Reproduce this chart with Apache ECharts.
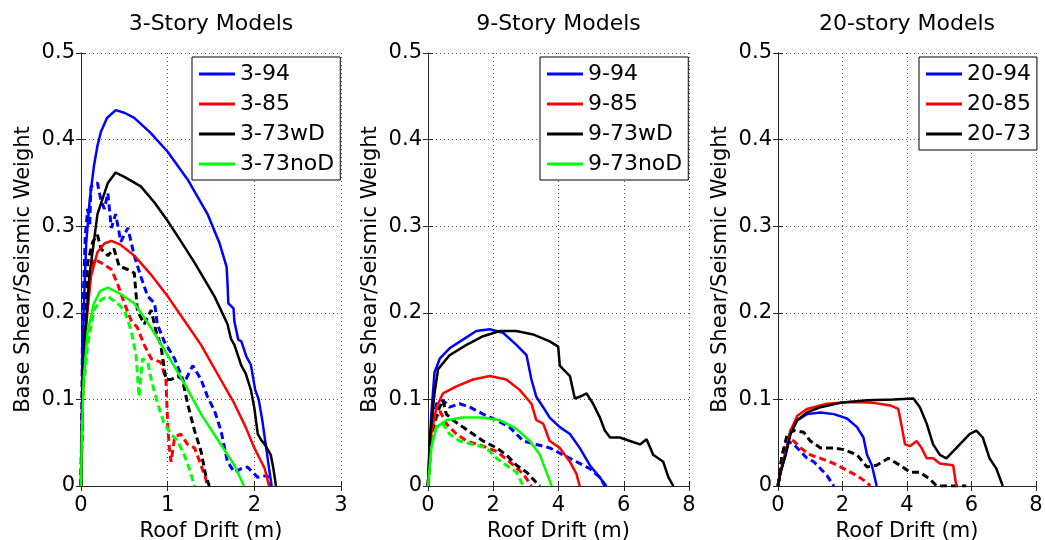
<!DOCTYPE html>
<html><head><meta charset="utf-8">
<script src="https://cdn.jsdelivr.net/npm/echarts/dist/echarts.min.js"></script>
<style>html,body{margin:0;padding:0;background:#fff}#c{width:1045px;height:540px}</style>
</head><body><div id="c"></div><script>
// ---------- Panel titles / legends / ticks ----------
const panelTitles = ['3-Story Models', '9-Story Models', '20-story Models'];
const xMax = [3, 8, 8];
const xStep = [1, 2, 2];
const yMax = 0.5, yStep = 0.1;
const xName = 'Roof Drift (m)';
const yName = 'Base Shear/Seismic Weight';
const legend3 = ['3-94', '3-85', '3-73wD', '3-73noD'];
const legend9 = ['9-94', '9-85', '9-73wD', '9-73noD'];
const legend20 = ['20-94', '20-85', '20-73'];

// ---------- 3-story: solid curves [drift, V/W] ----------
const s3_94 = [[0,0],[0.01,0.08],[0.03,0.2],[0.06,0.28],[0.1,0.33],[0.15,0.37],[0.19,0.393],[0.23,0.409],[0.3,0.425],[0.4,0.434],[0.5,0.431],[0.615,0.425],[0.8,0.408],[1.0,0.386],[1.23,0.354],[1.46,0.314],[1.6,0.28],[1.68,0.253],[1.69,0.235],[1.70,0.211],[1.76,0.205],[1.77,0.19],[1.815,0.169],[1.85,0.167],[1.91,0.149],[1.96,0.14],[2.01,0.111],[2.05,0.1],[2.085,0.08],[2.1,0.07],[2.14,0.042],[2.17,0.02],[2.2,0]];
const s3_85 = [[0,0],[0.02,0.1],[0.058,0.183],[0.115,0.242],[0.19,0.27],[0.27,0.28],[0.35,0.283],[0.45,0.279],[0.615,0.266],[0.8,0.245],[1.0,0.219],[1.2,0.19],[1.385,0.163],[1.6,0.125],[1.77,0.095],[1.9,0.068],[2.0,0.044],[2.07,0.03],[2.12,0.02],[2.17,0]];
const s3_73w = [[0,0],[0.015,0.1],[0.04,0.163],[0.096,0.242],[0.19,0.314],[0.31,0.35],[0.4,0.362],[0.5,0.357],[0.69,0.346],[0.85,0.327],[1.0,0.306],[1.15,0.283],[1.31,0.258],[1.54,0.219],[1.69,0.187],[1.73,0.17],[1.77,0.163],[1.85,0.139],[1.9,0.13],[1.96,0.111],[2.0,0.09],[2.04,0.06],[2.08,0.053],[2.12,0.048],[2.19,0.036],[2.22,0.02],[2.25,0]];
const s3_73n = [[0,0],[0.01,0.06],[0.03,0.123],[0.077,0.179],[0.15,0.211],[0.22,0.225],[0.31,0.229],[0.45,0.222],[0.615,0.211],[0.8,0.184],[1.0,0.151],[1.2,0.117],[1.385,0.083],[1.6,0.05],[1.77,0.024],[1.88,0]];
// ---------- 3-story: dashed curves ----------
const d3_94 = [[0,0],[0.02,0.2],[0.05,0.29],[0.077,0.32],[0.1,0.3],[0.115,0.346],[0.19,0.35],[0.23,0.33],[0.27,0.32],[0.31,0.338],[0.35,0.298],[0.4,0.314],[0.46,0.282],[0.54,0.298],[0.615,0.266],[0.69,0.242],[0.77,0.219],[0.85,0.211],[0.88,0.187],[0.96,0.167],[1.08,0.147],[1.19,0.119],[1.29,0.139],[1.385,0.123],[1.46,0.103],[1.54,0.087],[1.615,0.064],[1.69,0.028],[1.77,0.016],[1.85,0.02],[1.92,0.022],[2.04,0.01],[2.15,0.012],[2.19,0]];
const d3_85 = [[0,0],[0.02,0.143],[0.077,0.234],[0.15,0.262],[0.23,0.258],[0.35,0.25],[0.42,0.234],[0.5,0.211],[0.58,0.191],[0.65,0.183],[0.73,0.163],[0.81,0.147],[0.92,0.143],[0.98,0.123],[1.0,0.07],[1.02,0.044],[1.04,0.028],[1.08,0.056],[1.15,0.06],[1.23,0.048],[1.31,0.044],[1.385,0.024],[1.44,0.008],[1.46,0]];
const d3_73w = [[0,0],[0.03,0.163],[0.077,0.258],[0.135,0.282],[0.19,0.29],[0.23,0.274],[0.31,0.266],[0.38,0.274],[0.44,0.254],[0.54,0.25],[0.615,0.246],[0.65,0.203],[0.73,0.187],[0.81,0.203],[0.865,0.179],[0.92,0.163],[0.98,0.123],[1.04,0.123],[1.115,0.127],[1.17,0.123],[1.23,0.095],[1.31,0.064],[1.385,0.04],[1.44,0.012],[1.48,0]];
const d3_73n = [[0,0],[0.02,0.103],[0.077,0.163],[0.15,0.203],[0.23,0.215],[0.31,0.219],[0.42,0.211],[0.5,0.203],[0.58,0.179],[0.635,0.151],[0.67,0.103],[0.71,0.147],[0.77,0.143],[0.81,0.123],[0.885,0.095],[0.96,0.072],[1.04,0.06],[1.115,0.052],[1.19,0.036],[1.25,0.02],[1.31,0]];

// ---------- 9-story: solid ----------
const s9_94 = [[0,0],[0.1,0.083],[0.2,0.131],[0.36,0.147],[0.66,0.159],[1.07,0.169],[1.48,0.179],[1.89,0.181],[2.3,0.177],[2.71,0.163],[3.02,0.151],[3.17,0.123],[3.32,0.103],[3.53,0.091],[3.73,0.079],[4.04,0.068],[4.35,0.06],[4.65,0.044],[4.96,0.024],[5.22,0.012],[5.47,0]];
const s9_85 = [[0,0],[0.1,0.06],[0.26,0.091],[0.46,0.107],[0.87,0.115],[1.38,0.123],[1.89,0.127],[2.4,0.123],[2.81,0.111],[3.17,0.095],[3.32,0.076],[3.53,0.072],[3.73,0.052],[4.04,0.044],[4.35,0.028],[4.55,0.014],[4.65,0]];
const s9_73w = [[0,0],[0.05,0.052],[0.2,0.107],[0.31,0.135],[0.66,0.151],[1.18,0.163],[1.69,0.173],[2.2,0.179],[2.71,0.179],[3.22,0.175],[3.73,0.167],[3.99,0.161],[4.04,0.139],[4.14,0.135],[4.35,0.127],[4.5,0.101],[4.65,0.103],[4.86,0.107],[5.06,0.095],[5.27,0.079],[5.42,0.064],[5.58,0.056],[5.88,0.056],[6.19,0.052],[6.5,0.048],[6.7,0.054],[6.9,0.036],[7.21,0.028],[7.37,0.01],[7.52,0]];
const s9_73n = [[0,0],[0.1,0.044],[0.26,0.068],[0.56,0.076],[1.07,0.079],[1.69,0.079],[2.2,0.076],[2.71,0.066],[3.12,0.052],[3.43,0.036],[3.63,0.016],[3.79,0]];
// ---------- 9-story: dashed ----------
const d9_94 = [[0,0],[0.1,0.064],[0.26,0.095],[0.46,0.099],[0.66,0.091],[0.97,0.095],[1.28,0.091],[1.69,0.083],[2.1,0.076],[2.5,0.068],[2.92,0.052],[3.32,0.048],[3.73,0.044],[4.14,0.036],[4.55,0.028],[4.96,0.02],[5.27,0.01],[5.42,0]];
const d9_85 = [[0,0],[0.1,0.056],[0.26,0.079],[0.36,0.087],[0.56,0.072],[0.87,0.06],[1.18,0.052],[1.69,0.046],[2.1,0.04],[2.5,0.028],[2.92,0.014],[3.17,0]];
const d9_73w = [[0,0],[0.1,0.06],[0.26,0.083],[0.46,0.099],[0.56,0.083],[0.77,0.076],[1.07,0.068],[1.38,0.06],[1.69,0.052],[2.1,0.044],[2.4,0.036],[2.71,0.024],[3.02,0.016],[3.32,0.004],[3.43,0]];
const d9_73n = [[0,0],[0.1,0.048],[0.26,0.068],[0.46,0.072],[0.66,0.06],[0.97,0.052],[1.38,0.048],[1.79,0.044],[2.1,0.032],[2.4,0.024],[2.71,0.016],[2.92,0]];

// ---------- 20-story: solid ----------
const s20_94 = [[0,0],[0.08,0.016],[0.24,0.04],[0.39,0.064],[0.6,0.076],[0.9,0.083],[1.32,0.085],[1.73,0.083],[2.14,0.078],[2.45,0.068],[2.65,0.056],[2.76,0.036],[2.91,0.024],[3.06,0]];
const s20_85 = [[0,0],[0.08,0.016],[0.24,0.038],[0.39,0.064],[0.6,0.081],[0.9,0.089],[1.52,0.095],[2.24,0.097],[2.96,0.096],[3.48,0.093],[3.73,0.089],[3.84,0.068],[3.94,0.048],[4.09,0.046],[4.3,0.052],[4.45,0.044],[4.61,0.032],[4.81,0.032],[5.02,0.026],[5.43,0.024],[5.53,0]];
const s20_73 = [[0,0],[0.08,0.016],[0.24,0.036],[0.39,0.06],[0.6,0.076],[0.9,0.085],[1.32,0.091],[1.93,0.096],[2.76,0.099],[3.58,0.1],[4.2,0.101],[4.4,0.091],[4.61,0.072],[4.81,0.048],[5.02,0.036],[5.22,0.032],[5.43,0.04],[5.74,0.052],[5.94,0.06],[6.15,0.064],[6.35,0.056],[6.56,0.032],[6.77,0.02],[6.97,0]];
// ---------- 20-story: dashed ----------
const d20_94 = [[0,0],[0.13,0.036],[0.29,0.052],[0.49,0.048],[0.7,0.04],[0.9,0.032],[1.11,0.028],[1.32,0.02],[1.52,0.012],[1.73,0]];
const d20_85 = [[0,0],[0.13,0.036],[0.29,0.056],[0.49,0.052],[0.7,0.044],[1.0,0.036],[1.32,0.032],[1.73,0.026],[2.04,0.02],[2.45,0.012],[2.76,0.004],[2.86,0]];
const d20_73 = [[0,0],[0.13,0.036],[0.29,0.06],[0.49,0.064],[0.8,0.062],[1.0,0.052],[1.32,0.044],[1.73,0.044],[2.04,0.042],[2.45,0.036],[2.76,0.022],[3.06,0.024],[3.42,0.032],[3.78,0.024],[4.09,0.016],[4.4,0.016],[4.71,0.008],[4.92,0],[5.84,0]];

const BLUE = '#0000ff', RED = '#ff0000', BLACK = '#000000', GREEN = '#00ff00';
const FONT = 'DejaVu Sans';
const grids = [
  {left: 81, top: 53, width: 260, height: 433, outerBoundsMode: 'none', containLabel: false},
  {left: 428, top: 53, width: 261, height: 433, outerBoundsMode: 'none', containLabel: false},
  {left: 778, top: 53, width: 258, height: 433, outerBoundsMode: 'none', containLabel: false}
];
const axisColor = '#262626';
const gridLine = {show: true, lineStyle: {color: '#555', type: [1, 3], width: 1}};

const xAxes = [], yAxes = [];
for (let i = 0; i < 3; i++) {
  xAxes.push({type: 'value', gridIndex: i, min: 0, max: xMax[i], interval: xStep[i],
    name: xName, nameLocation: 'middle', nameGap: 30,
    nameTextStyle: {fontSize: 21, color: '#000', fontFamily: FONT},
    axisLine: {lineStyle: {color: axisColor}},
    axisTick: {inside: true, length: 5, lineStyle: {color: axisColor}},
    axisLabel: {fontSize: 21, color: '#000', margin: 9, fontFamily: FONT},
    splitLine: gridLine});
  yAxes.push({type: 'value', gridIndex: i, min: 0, max: yMax, interval: yStep,
    name: yName, nameLocation: 'middle', nameGap: 47,
    nameTextStyle: {fontSize: 21, color: '#000', fontFamily: FONT},
    axisLine: {show: true, lineStyle: {color: axisColor}},
    axisTick: {show: true, inside: true, length: 5, lineStyle: {color: axisColor}},
    axisLabel: {fontSize: 21, color: '#000', margin: 6, fontFamily: FONT},
    splitLine: gridLine});
}
for (let i = 0; i < 3; i++) {
  xAxes.push({type: 'value', gridIndex: i, position: 'top', min: 0, max: xMax[i], interval: xStep[i],
    axisLine: {lineStyle: {color: axisColor}}, axisTick: {inside: true, length: 5, lineStyle: {color: axisColor}},
    axisLabel: {show: false}, splitLine: {show: false}});
  yAxes.push({type: 'value', gridIndex: i, position: 'right', min: 0, max: yMax, interval: yStep,
    axisLine: {show: true, lineStyle: {color: axisColor}}, axisTick: {show: true, inside: true, length: 5, lineStyle: {color: axisColor}},
    axisLabel: {show: false}, splitLine: {show: false}});
}

function line(name, data, color, idx, dashed) {
  return {type: 'line', name: name, data: data, xAxisIndex: idx, yAxisIndex: idx,
    showSymbol: false, symbol: 'none', animation: false, silent: true,
    lineStyle: {color: color, width: dashed ? 3 : 2.5, type: dashed ? [7, 4] : 'solid'},
    itemStyle: {color: color}, z: dashed ? 2 : 3};
}
const series = [
  line('3-94 dashed', d3_94, BLUE, 0, true), line('3-85 dashed', d3_85, RED, 0, true),
  line('3-73wD dashed', d3_73w, BLACK, 0, true), line('3-73noD dashed', d3_73n, GREEN, 0, true),
  line(legend3[0], s3_94, BLUE, 0), line(legend3[1], s3_85, RED, 0),
  line(legend3[2], s3_73w, BLACK, 0), line(legend3[3], s3_73n, GREEN, 0),
  line('9-94 dashed', d9_94, BLUE, 1, true), line('9-85 dashed', d9_85, RED, 1, true),
  line('9-73wD dashed', d9_73w, BLACK, 1, true), line('9-73noD dashed', d9_73n, GREEN, 1, true),
  line(legend9[0], s9_94, BLUE, 1), line(legend9[1], s9_85, RED, 1),
  line(legend9[2], s9_73w, BLACK, 1), line(legend9[3], s9_73n, GREEN, 1),
  line('20-94 dashed', d20_94, BLUE, 2, true), line('20-85 dashed', d20_85, RED, 2, true),
  line('20-73 dashed', d20_73, BLACK, 2, true),
  line(legend20[0], s20_94, BLUE, 2), line(legend20[1], s20_85, RED, 2), line(legend20[2], s20_73, BLACK, 2)
];

function mkLegend(names, left) {
  return {data: names, left: left, top: 57, orient: 'vertical', icon: 'rect',
    itemWidth: 36, itemHeight: 3, itemGap: 8, itemTextGap: 3,
    padding: [6, 6, 5, 7], borderColor: '#000', borderWidth: 1, backgroundColor: '#fff',
    selectedMode: false,
    textStyle: {fontSize: 22, color: '#000', fontFamily: FONT, lineHeight: 22}};
}

const chart = echarts.init(document.getElementById('c'), null, {renderer: 'canvas'});
chart.setOption({
  animation: false,
  backgroundColor: '#fff',
  textStyle: {fontFamily: FONT},
  grid: grids,
  xAxis: xAxes,
  yAxis: yAxes,
  legend: [mkLegend(legend3, 192), mkLegend(legend9, 540), mkLegend(legend20, 919)],
  graphic: panelTitles.map((t, i) => ({type: 'text',
    x: grids[i].left + grids[i].width / 2, y: 13,
    style: {text: t, fontSize: 22, fontFamily: FONT, fill: '#000', textAlign: 'center', textVerticalAlign: 'top'}})),
  series: series
});
</script></body></html>
